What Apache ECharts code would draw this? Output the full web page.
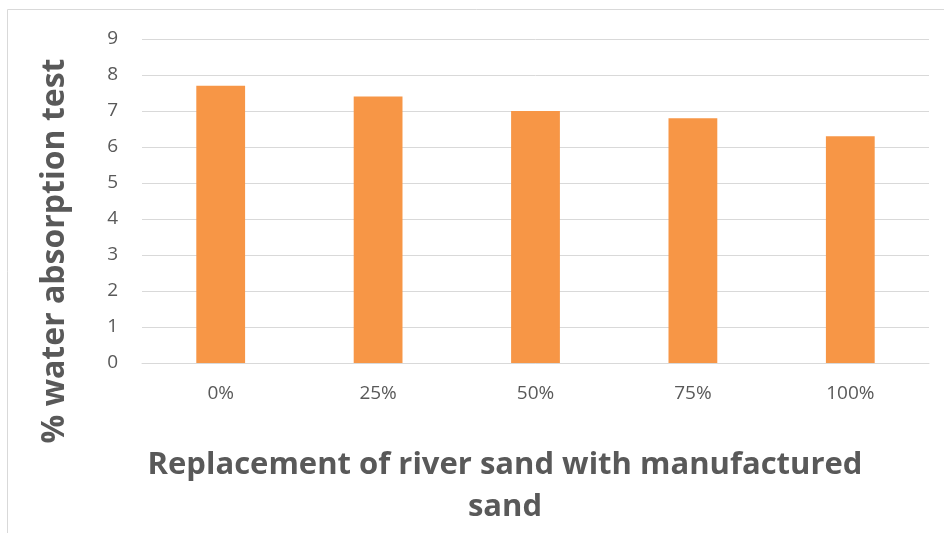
<!DOCTYPE html>
<html><head><meta charset="utf-8">
<script src="https://cdn.jsdelivr.net/npm/echarts@6/dist/echarts.min.js"></script>
<style>html,body{margin:0;padding:0;background:#fff}#c{width:944px;height:533px}</style>
</head><body><div id="c"></div>
<script>
const categories = ['0%', '25%', '50%', '75%', '100%'];
const values = [7.7, 7.4, 7.0, 6.8, 6.3];
const yTicks = { min: 0, max: 9, interval: 1 };
const xTitleLines = ['Replacement of river sand with manufactured', 'sand'];
const yTitle = '% water absorption test';

const chart = echarts.init(document.getElementById('c'), null, { renderer: 'canvas' });
const font = '"Open Sans", sans-serif';
chart.setOption({
  animation: false,
  grid: { left: 142, right: 15, top: 39, bottom: 170, containLabel: false },
  xAxis: {
    type: 'category', data: categories,
    axisLine: { show: true, lineStyle: { color: '#d9d9d9', width: 1 } },
    axisTick: { show: false },
    axisLabel: { color: '#595959', fontSize: 19, fontFamily: font, margin: 21 }
  },
  yAxis: {
    type: 'value', min: yTicks.min, max: yTicks.max, interval: yTicks.interval,
    axisLine: { show: false }, axisTick: { show: false },
    splitLine: { lineStyle: { color: '#d9d9d9', width: 1 } },
    axisLabel: { color: '#595959', fontSize: 19, fontFamily: font, margin: 24 }
  },
  series: [{
    type: 'bar', data: values, barWidth: '31%',
    itemStyle: { color: '#F79646' }
  }],
  graphic: [
    { type: 'rect', shape: { x: 7.5, y: 9.5, width: 1000, height: 1000 }, style: { fill: 'none', stroke: '#d9d9d9', lineWidth: 1 }, silent: true },
    { type: 'text', x: 505, y: 465, style: { text: xTitleLines[0], font: 'bold 31px ' + font, fill: '#595959', textAlign: 'center', textVerticalAlign: 'middle' } },
    { type: 'text', x: 505, y: 507, style: { text: xTitleLines[1], font: 'bold 31px ' + font, fill: '#595959', textAlign: 'center', textVerticalAlign: 'middle' } },
    { type: 'text', x: 55, y: 251, rotation: Math.PI / 2, style: { text: yTitle, font: 'bold 32px ' + font, fill: '#595959', textAlign: 'center', textVerticalAlign: 'middle' } }
  ]
});
</script></body></html>
